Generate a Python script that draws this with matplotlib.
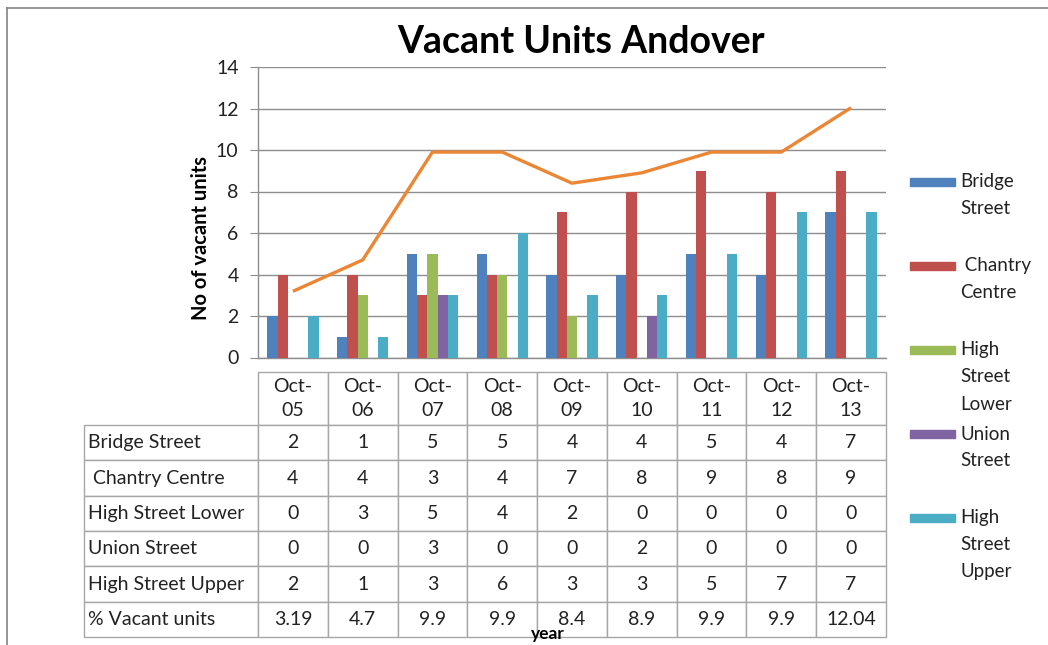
import matplotlib.pyplot as plt
import numpy as np
from matplotlib.patches import Rectangle
from matplotlib.lines import Line2D
from matplotlib.table import Table

plt.rcParams['font.family'] = ['Lato', 'DejaVu Sans']

# ── data ─────────────────────────────────────────────────────────────
periods = ['Oct-05', 'Oct-06', 'Oct-07', 'Oct-08', 'Oct-09',
           'Oct-10', 'Oct-11', 'Oct-12', 'Oct-13']
bridge_street     = [2, 1, 5, 5, 4, 4, 5, 4, 7]
chantry_centre    = [4, 4, 3, 4, 7, 8, 9, 8, 9]
high_street_lower = [0, 3, 5, 4, 2, 0, 0, 0, 0]
union_street      = [0, 0, 3, 0, 0, 2, 0, 0, 0]
high_street_upper = [2, 1, 3, 6, 3, 3, 5, 7, 7]
pct_vacant        = [3.19, 4.7, 9.9, 9.9, 8.4, 8.9, 9.9, 9.9, 12.04]

series = [bridge_street, chantry_centre, high_street_lower,
          union_street, high_street_upper]
row_names = ['Bridge Street', ' Chantry Centre', 'High Street Lower',
             'Union Street', 'High Street Upper', '% Vacant units']
legend_labels = ['Bridge\nStreet', ' Chantry\nCentre', 'High\nStreet\nLower',
                 'Union\nStreet', 'High\nStreet\nUpper']
colors = ['#4F81BD', '#C0504D', '#9BBB59', '#8064A2', '#4BACC6']
line_color = '#EB8634'
grid_color = '#8E8E8E'

# ── layout helpers (pixel -> figure fraction) ────────────────────────
W, H = 1048, 645
AX_L, AX_R, AX_T, AX_B = 258, 886, 67, 357.5
AX_W, AX_H = AX_R - AX_L, AX_B - AX_T


def fx(px):
    return px / W


def fy(py):
    return 1 - py / H


fig = plt.figure(figsize=(W / 100, H / 100), dpi=100)

# outer chart frame (only top/left edges visible in the crop)
fig.add_artist(Line2D([fx(7), fx(7)], [fy(8), 0], color='#8C8C8C', lw=1.3))
fig.add_artist(Line2D([fx(7), 1], [fy(8), fy(8)], color='#8C8C8C', lw=1.3))

ax = fig.add_axes([fx(AX_L), fy(AX_B), AX_W / W, AX_H / H])

# ── bars ─────────────────────────────────────────────────────────────
x = np.arange(len(periods))
bw = 0.147
for i, (vals, c) in enumerate(zip(series, colors)):
    ax.bar(x + (i - 2) * bw, vals, width=bw, color=c, zorder=3)

ax.plot(x, pct_vacant, color=line_color, lw=2.4, zorder=4,
        solid_capstyle='butt')

ax.set_xlim(-0.5, len(periods) - 0.5)
ax.set_ylim(0, 14)
ax.set_yticks(range(0, 15, 2))
ax.set_xticks([])
ax.yaxis.grid(True, color=grid_color, lw=1, zorder=0)
ax.set_axisbelow(True)
for s in ['top', 'right']:
    ax.spines[s].set_visible(False)
for s in ['left', 'bottom']:
    ax.spines[s].set_color(grid_color)
    ax.spines[s].set_linewidth(1)
ax.tick_params(axis='y', length=6, color=grid_color, labelsize=14,
               pad=8, labelcolor='#222222')

# ── data table (built cell by cell, sizes in pixels, fitted by bbox) ─
cell_text = [[str(v) for v in s] for s in series]
cell_text.append([f'{v:g}' for v in pct_vacant])
col_labels = [p.replace('-', '-\n') for p in periods]

TBL_L, TBL_T, TBL_B = 84, 372, 637
HEAD_H, ROW_H = 53, 35.3
LAB_W, COL_W = 174, AX_W / len(periods)

tbl = Table(ax, bbox=[(TBL_L - AX_L) / AX_W, (AX_B - TBL_B) / AX_H,
                      (AX_R - TBL_L) / AX_W, (TBL_B - TBL_T) / AX_H])
corner = tbl.add_cell(0, 0, LAB_W, HEAD_H, text='')
corner.visible_edges = ''
for j, lab in enumerate(col_labels):
    cell = tbl.add_cell(0, j + 1, COL_W, HEAD_H, text=lab, loc='center')
    cell.get_text().set_linespacing(1.45)
for i, name in enumerate(row_names):
    cell = tbl.add_cell(i + 1, 0, LAB_W, ROW_H, text=name, loc='left')
    cell.PAD = 0.025
    for j, val in enumerate(cell_text[i]):
        tbl.add_cell(i + 1, j + 1, COL_W, ROW_H, text=val, loc='center')

tbl.auto_set_font_size(False)
tbl.set_fontsize(14)
for cell in tbl.get_celld().values():
    cell.set_edgecolor('#A6A6A6')
    cell.set_linewidth(1)
    cell.get_text().set_color('#222222')
ax.add_table(tbl)

# ── texts ────────────────────────────────────────────────────────────
fig.text(fx(581), fy(42), 'Vacant Units Andover', ha='center', va='center',
         fontsize=27, fontweight='bold')
fig.text(fx(201), fy(238), 'No of vacant units', rotation=90,
         ha='center', va='center', fontsize=14.5, fontweight='bold')
fig.text(fx(548), fy(634), 'year', ha='center', va='center',
         fontsize=12.5, fontweight='bold')

# ── legend (bars only) ───────────────────────────────────────────────
for i, (lab, c) in enumerate(zip(legend_labels, colors)):
    yc = 182 + 84 * i
    fig.add_artist(Rectangle((fx(910), fy(yc + 4)), 45 / W, 8 / H,
                             color=c, transform=fig.transFigure))
    for k, line in enumerate(lab.split('\n')):
        fig.text(fx(960), fy(yc + 27 * k), line, ha='left', va='center',
                 fontsize=13.5, color='#222222')

fig.savefig('out.png', dpi=100)
